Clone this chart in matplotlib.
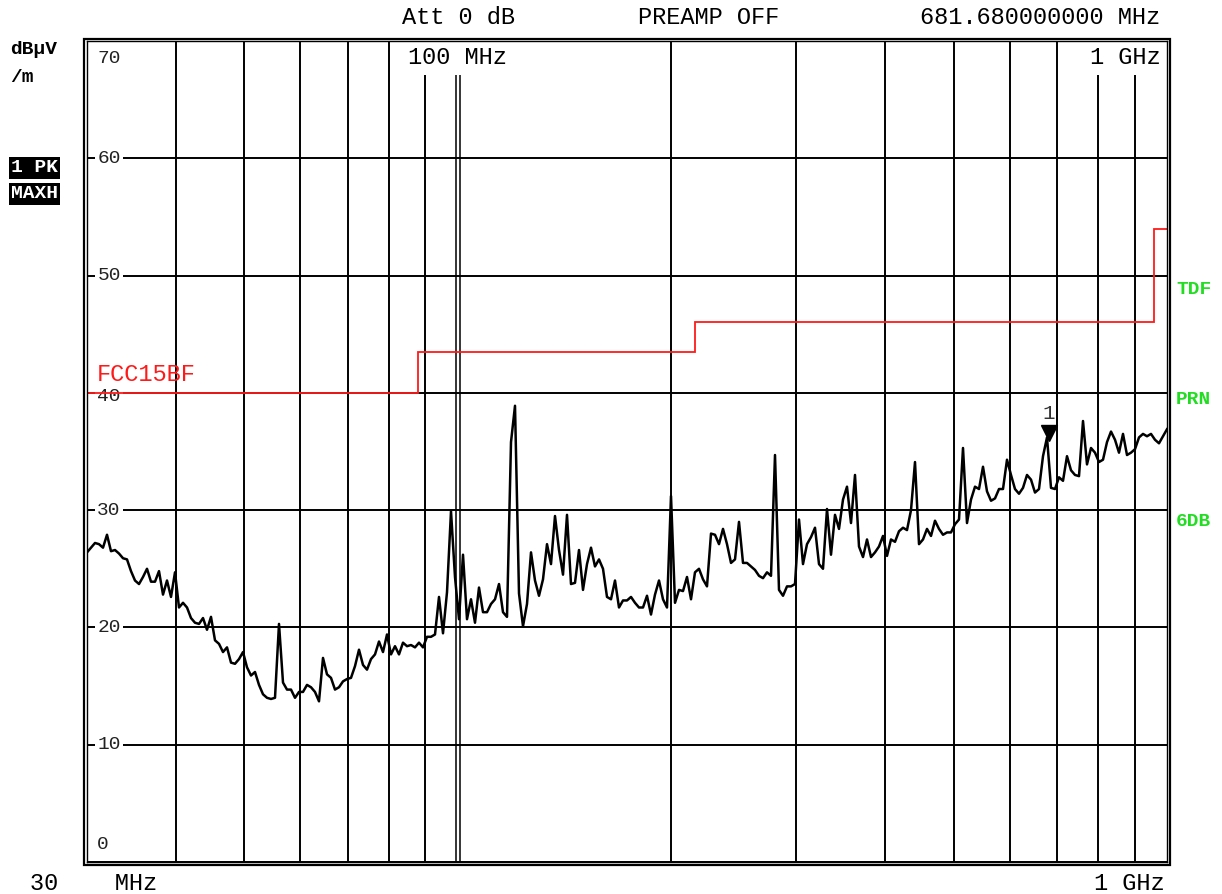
import numpy as np
import matplotlib
matplotlib.use('Agg')
from matplotlib import pyplot as plt
from matplotlib import ticker, transforms
from matplotlib.patches import Rectangle

level_dbuv = [
    26.4, 26.8, 27.2, 27.1, 26.8, 27.9, 26.5, 26.6, 26.3, 25.9,
    25.8, 24.8, 24.0, 23.7, 24.3, 25.0, 23.9, 23.9, 24.8, 22.8,
    24.0, 22.6, 24.7, 21.7, 22.1, 21.7, 20.8, 20.4, 20.3, 20.8,
    19.8, 20.9, 18.9, 18.6, 17.9, 18.3, 17.0, 16.9, 17.3, 17.9,
    16.6, 15.9, 16.2, 15.1, 14.3, 14.0, 13.9, 14.0, 20.3, 15.3,
    14.7, 14.7, 14.0, 14.5, 14.5, 15.1, 14.9, 14.5, 13.7, 17.4,
    16.0, 15.7, 14.7, 14.9, 15.4, 15.6, 15.7, 16.7, 18.1, 16.8,
    16.4, 17.3, 17.7, 18.8, 17.9, 19.4, 17.7, 18.4, 17.7, 18.7,
    18.4, 18.5, 18.3, 18.7, 18.3, 19.2, 19.2, 19.4, 22.6, 19.5,
    23.0, 29.9, 24.3, 20.7, 26.2, 20.7, 22.4, 20.4, 23.4, 21.3,
    21.3, 22.0, 22.4, 23.7, 21.3, 20.9, 35.8, 38.9, 22.9, 20.1,
    22.0, 26.4, 24.0, 22.7, 24.1, 27.1, 25.4, 29.5, 26.6, 24.5,
    29.6, 23.7, 23.8, 26.6, 23.2, 25.4, 26.8, 25.2, 25.8, 25.0,
    22.6, 22.4, 24.0, 21.7, 22.3, 22.3, 22.6, 22.1, 21.7, 21.7,
    22.7, 21.1, 22.8, 24.0, 22.4, 21.7, 31.2, 22.1, 23.2, 23.1,
    24.3, 22.4, 24.7, 25.0, 24.1, 23.5, 28.0, 27.9, 27.1, 28.4,
    27.1, 25.5, 25.8, 29.0, 25.5, 25.5, 25.2, 24.9, 24.4, 24.2,
    24.7, 24.4, 34.7, 23.2, 22.7, 23.5, 23.5, 23.7, 29.2, 25.4,
    27.1, 27.7, 28.5, 25.4, 25.0, 30.1, 26.2, 29.6, 28.4, 30.9,
    32.0, 28.9, 33.0, 26.9, 26.0, 27.5, 26.0, 26.4, 26.9, 27.8,
    26.1, 27.5, 27.3, 28.2, 28.5, 28.3, 30.0, 34.1, 27.1, 27.5,
    28.4, 27.8, 29.1, 28.4, 27.9, 28.1, 28.1, 28.8, 29.2, 35.3,
    28.9, 30.9, 32.0, 31.8, 33.7, 31.6, 30.8, 31.0, 31.8, 31.8,
    34.3, 33.0, 31.8, 31.4, 31.9, 33.0, 32.6, 31.5, 31.8, 34.6,
    36.2, 31.9, 31.8, 32.8, 32.5, 34.6, 33.4, 33.0, 32.9, 37.6,
    33.9, 35.3, 34.9, 34.1, 34.3, 35.8, 36.7, 36.0, 34.9, 36.5,
    34.7, 34.9, 35.2, 36.2, 36.5, 36.3, 36.5, 36.0, 35.7, 36.3,
    36.9,
]
# the analyzer sweeps log spaced points
sweep_mhz = np.geomspace(30, 1000, len(level_dbuv))

limit_name = 'FCC15BF'
limit_edges_mhz = [30, 88, 216, 960, 1000]
limit_dbuv = [40, 43.5, 46, 54]

marker_mhz = 681.68
marker_dbuv = 36.2

y_ticks = [0, 10, 20, 30, 40, 50, 60, 70]

header = ['Att 0 dB', 'PREAMP OFF', '681.680000000 MHz']
side_flags = ['TDF', 'PRN', '6DB']

plt.rcParams['font.family'] = ['Liberation Mono', 'DejaVu Sans Mono']

W, H = 1222, 894
fig = plt.figure(figsize=(W / 100, H / 100), dpi=100)
ax = fig.add_axes([87 / W, 1 - 862 / H, 1080 / W, 821 / H])

ax.set_xscale('log')
ax.set_xlim(30, 1000)
ax.set_ylim(y_ticks[0], y_ticks[-1])

ax.xaxis.set_major_locator(ticker.NullLocator())
ax.xaxis.set_minor_locator(ticker.LogLocator(base=10, subs=np.arange(2, 10), numticks=20))
ax.xaxis.set_minor_formatter(ticker.NullFormatter())
ax.yaxis.set_major_locator(ticker.FixedLocator(y_ticks))
ax.grid(which='both', color='black', lw=1.4)
ax.set_axisbelow(True)
ax.tick_params(which='both', length=0, labelbottom=False, labelleft=False)
for sp in ax.spines.values():
    sp.set_linewidth(1.0)
    sp.set_zorder(10)

# double line for the 100 MHz decade
for dx in (-2, 2):
    tr = transforms.offset_copy(ax.get_xaxis_transform(), fig=fig, x=dx, y=0, units='dots')
    ax.plot([100, 100], [0, 1], transform=tr, color='black', lw=1.1, zorder=0.6)

# outer frame
fig.add_artist(Rectangle((84 / W, 1 - 865 / H), 1086 / W, 826 / H, fill=False,
                         lw=1.6, ec='black', transform=fig.transFigure))

ax.plot(sweep_mhz, level_dbuv, color='black', lw=1.8, zorder=3)
ax.stairs(limit_dbuv, limit_edges_mhz, color='#ff1a1a', lw=1.3, baseline=None, zorder=5)
ax.text(0.009, limit_dbuv[0] + 0.55, limit_name, transform=ax.get_yaxis_transform(),
        color='#ff1a1a', fontsize=17, ha='left', va='bottom', zorder=5)

# marker 1
tri = transforms.offset_copy(ax.transData, fig=fig, x=0, y=4, units='dots')
ax.plot([marker_mhz], [marker_dbuv], marker='v', ms=11, color='black', transform=tri,
        zorder=6, clip_on=False)
ax.annotate('1', (marker_mhz, marker_dbuv), xytext=(0, 24), textcoords='offset pixels',
            ha='center', va='center', fontsize=15, color='#333333', zorder=6)

# level labels sitting on the grid lines
bb = dict(fc='white', ec='none', pad=2)
for v in y_ticks:
    yy = v
    if v == y_ticks[-1]:
        yy = v - 1.45
    elif v == y_ticks[0]:
        yy = v + 1.45
    elif v == limit_dbuv[0]:
        yy = v - 0.3
    ax.text(0.0095, yy, f'{v}', transform=ax.get_yaxis_transform(), fontsize=14,
            ha='left', va='center', color='#222222', bbox=bb, zorder=4)

top_bb = dict(fc='white', ec='none', pad=4)
ax.text(100, 0.98, '100 MHz', transform=ax.get_xaxis_transform(), fontsize=17,
        ha='center', va='center', bbox=top_bb, zorder=4)
ax.text(0.9945, 0.98, '1 GHz', transform=ax.transAxes, fontsize=17,
        ha='right', va='center', bbox=top_bb, zorder=4)

# header line
fig.text(402 / W, 1 - 18 / H, header[0], fontsize=17, ha='left', va='center')
fig.text(638 / W, 1 - 18 / H, header[1], fontsize=17, ha='left', va='center')
fig.text(1160 / W, 1 - 18 / H, header[2], fontsize=17, ha='right', va='center')

# bottom frequency labels
fig.text(30 / W, 1 - 884 / H, '30    MHz', fontsize=17, ha='left', va='center')
fig.text(1165 / W, 1 - 884 / H, '1 GHz', fontsize=17, ha='right', va='center')

# left side unit and trace info
fig.text(10 / W, 1 - 50 / H, 'dBµV', fontsize=14, weight='bold', ha='left', va='center')
fig.text(10 / W, 1 - 77 / H, '/m', fontsize=14, weight='bold', ha='left', va='center')
blk = dict(boxstyle='square,pad=0.12', fc='black', ec='none')
fig.text(11 / W, 1 - 168 / H, '1 PK', fontsize=14, weight='bold', color='white',
         ha='left', va='center', bbox=blk)
fig.text(11 / W, 1 - 194 / H, 'MAXH', fontsize=14, weight='bold', color='white',
         ha='left', va='center', bbox=blk)

# right side flags
for txt, yp in zip(side_flags, [290, 400, 522]):
    fig.text(1176 / W, 1 - yp / H, txt, fontsize=14, weight='bold', color='#22dd22',
             ha='left', va='center')

fig.savefig('out.png', dpi=100)
